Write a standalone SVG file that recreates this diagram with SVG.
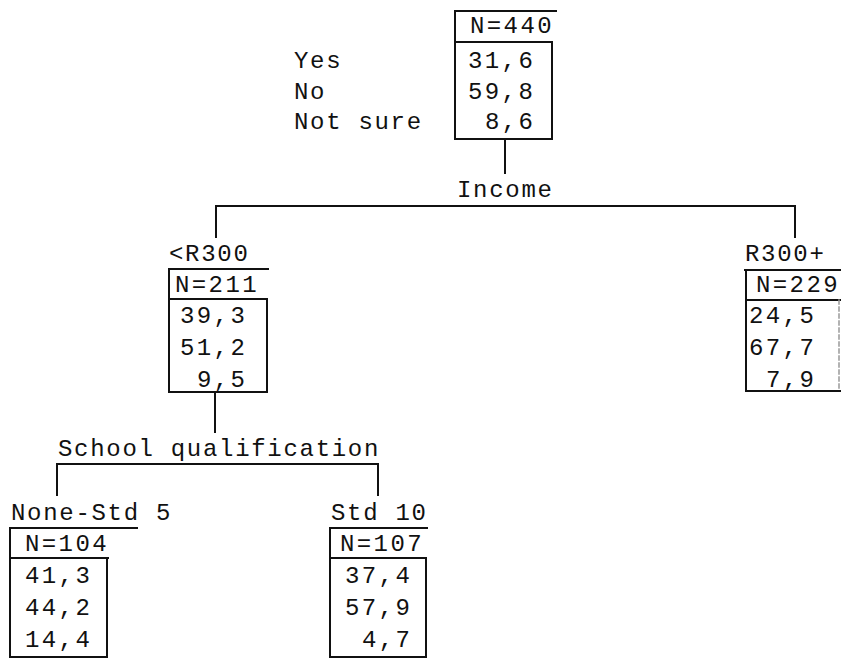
<svg xmlns="http://www.w3.org/2000/svg" width="842" height="658" viewBox="0 0 842 658">
<style>
text{font-family:"Liberation Mono","DejaVu Sans Mono",monospace;font-size:24px;fill:#111;letter-spacing:1.7px}
text.n{letter-spacing:2.4px}
line{stroke:#111;stroke-width:2;stroke-linecap:square}
.faint{stroke:#999;stroke-width:1.5;stroke-dasharray:4 3}
</style>
<rect width="842" height="658" fill="#fff"/>
<g id="connectors">
<line x1="505" y1="139" x2="505" y2="173"/>
<line x1="216" y1="206" x2="795" y2="206"/>
<line x1="216" y1="206" x2="216" y2="237"/>
<line x1="795" y1="206" x2="795" y2="237"/>
<line x1="215" y1="392" x2="215" y2="432"/>
<line x1="57" y1="464" x2="378" y2="464"/>
<line x1="57" y1="464" x2="57" y2="495"/>
<line x1="378" y1="464" x2="378" y2="495"/>
<text x="457" y="197">Income</text>
<text x="58" y="456">School qualification</text>
</g>
<g id="legend">
<text x="294" y="68">Yes</text>
<text x="294" y="99">No</text>
<text x="294" y="129">Not sure</text>
</g>
<g id="root">
<line x1="455" y1="11" x2="556" y2="11"/>
<line x1="455" y1="11" x2="455" y2="139"/>
<line x1="455" y1="42" x2="552" y2="42"/>
<line x1="552" y1="42" x2="552" y2="139"/>
<line x1="455" y1="139" x2="552" y2="139"/>
<text class="n" x="470" y="33">N=440</text>
<text class="n" x="468" y="68">31,6</text>
<text class="n" x="468" y="99">59,8</text>
<text class="n" x="485" y="129">8,6</text>
</g>
<g id="low-income">
<text x="169" y="261">&lt;R300</text>
<line x1="169" y1="269" x2="268" y2="269"/>
<line x1="169" y1="269" x2="169" y2="392"/>
<line x1="169" y1="299" x2="267" y2="299"/>
<line x1="267" y1="299" x2="267" y2="392"/>
<line x1="169" y1="392" x2="267" y2="392"/>
<text class="n" x="175" y="292">N=211</text>
<text class="n" x="180" y="323">39,3</text>
<text class="n" x="180" y="355">51,2</text>
<text class="n" x="197" y="387">9,5</text>
</g>
<g id="high-income">
<text x="745" y="261">R300+</text>
<line x1="745" y1="270" x2="840" y2="270"/>
<line x1="746" y1="270" x2="746" y2="391"/>
<line x1="746" y1="300" x2="840" y2="300"/>
<line class="faint" x1="839" y1="300" x2="839" y2="391"/>
<line x1="746" y1="391" x2="840" y2="391"/>
<text class="n" x="756" y="292">N=229</text>
<text class="n" x="749" y="323">24,5</text>
<text class="n" x="749" y="355">67,7</text>
<text class="n" x="766" y="387">7,9</text>
</g>
<g id="none-std5">
<text x="11" y="520">None-Std 5</text>
<line x1="10" y1="528" x2="137" y2="528"/>
<line x1="10" y1="528" x2="10" y2="657"/>
<line x1="10" y1="558" x2="108" y2="558"/>
<line x1="107" y1="558" x2="107" y2="657"/>
<line x1="10" y1="657" x2="107" y2="657"/>
<text class="n" x="25" y="551">N=104</text>
<text class="n" x="25" y="583">41,3</text>
<text class="n" x="25" y="615">44,2</text>
<text class="n" x="25" y="647">14,4</text>
</g>
<g id="std10">
<text x="331" y="520">Std 10</text>
<line x1="330" y1="528" x2="427" y2="528"/>
<line x1="330" y1="528" x2="330" y2="657"/>
<line x1="330" y1="558" x2="426" y2="558"/>
<line x1="426" y1="558" x2="426" y2="657"/>
<line x1="330" y1="657" x2="426" y2="657"/>
<text class="n" x="340" y="551">N=107</text>
<text class="n" x="345" y="583">37,4</text>
<text class="n" x="345" y="615">57,9</text>
<text class="n" x="362" y="647">4,7</text>
</g>
</svg>
